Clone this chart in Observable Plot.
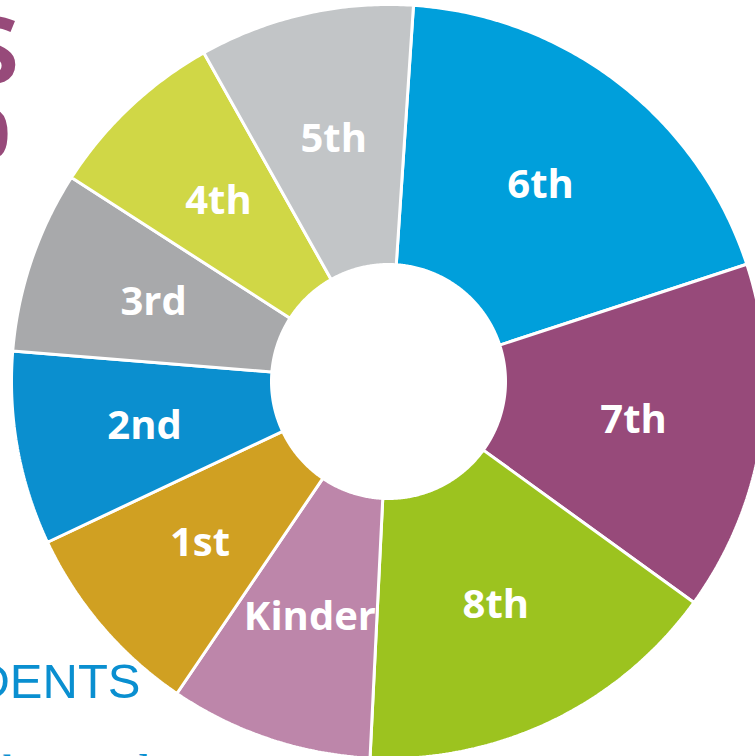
<!DOCTYPE html>
<html><head><meta charset="utf-8">
<script src="https://cdn.jsdelivr.net/npm/d3@7"></script>
<script src="https://cdn.jsdelivr.net/npm/@observablehq/plot@0.6"></script>
<style>
html,body{margin:0;padding:0;background:#fff;overflow:hidden;width:755px;height:756px;}
#wrap{position:relative;width:755px;height:756px;overflow:hidden;background:#fff;}
#wrap svg{position:absolute;left:0;top:0;}
.frag{position:absolute;white-space:nowrap;}
</style></head><body><div id="wrap"></div>
<script>
// Data (share of enrolment, %), clockwise from the top
const grades = ["6th","7th","8th","Kinder","1st","2nd","3rd","4th","5th"];
const shares = [18.9, 15.0, 15.8, 8.7, 8.5, 8.3, 7.8, 7.75, 9.2];
const colors = ["#009fdb","#974a7a","#9cc31f","#bd86aa","#d0a022","#0b8fcf","#a8a9ab","#d0d746","#c2c5c7"];

// Layout
const W = 755, H = 756, CX = 388, CY = 381, R = 377, R0 = 117, RL = 248, START_DEG = 3.8;

const data = grades.map((g, i) => ({grade: g, share: shares[i]}));
const a0 = START_DEG * Math.PI / 180;
const arcs = d3.pie().sort(null).value(d => d.share).startAngle(a0).endAngle(a0 + 2 * Math.PI)(data);

const inner = R0 / R;
const pts = [];
const labels = [];
for (const a of arcs) {
  const n = Math.max(8, Math.ceil((a.endAngle - a.startAngle) / (Math.PI / 360)));
  for (let k = 0; k <= n; k++) {
    const t = a.startAngle + (a.endAngle - a.startAngle) * k / n;
    pts.push({grade: a.data.grade, x: Math.sin(t), y: Math.cos(t)});
  }
  for (let k = n; k >= 0; k--) {
    const t = a.startAngle + (a.endAngle - a.startAngle) * k / n;
    pts.push({grade: a.data.grade, x: inner * Math.sin(t), y: inner * Math.cos(t)});
  }
  const m = (a.startAngle + a.endAngle) / 2;
  labels.push({grade: a.data.grade, x: (RL / R) * Math.sin(m), y: (RL / R) * Math.cos(m)});
}

const chart = Plot.plot({
  width: W, height: H, margin: 0,
  style: {background: "transparent", overflow: "visible"},
  x: {domain: [-CX / R, (W - CX) / R], range: [0, W], axis: null},
  y: {domain: [-(H - CY) / R, CY / R], range: [H, 0], axis: null},
  color: {domain: grades, range: colors},
  marks: [
    Plot.line(pts, {x: "x", y: "y", z: "grade", fill: "grade", stroke: "white", strokeWidth: 3, strokeLinejoin: "miter", curve: "linear-closed"}),
    Plot.text(labels, {x: "x", y: "y", text: "grade", fill: "white", fontSize: 40, fontWeight: 700, fontFamily: "Open Sans"})
  ]
});
const wrap = document.getElementById("wrap");
wrap.appendChild(chart);

// Cropped page text around the chart
function frag(text, css) {
  const d = document.createElement("div");
  d.className = "frag";
  d.textContent = text;
  Object.assign(d.style, css);
  wrap.appendChild(d);
}
frag("S", {right: (W - 19) + "px", top: "13px", lineHeight: "0.75", fontFamily: "Open Sans", fontWeight: 700, fontSize: "92px", color: "#974a7a", textAlign: "right"});
frag("0", {right: (W - 10) + "px", top: "106px", lineHeight: "0.8", fontFamily: "Open Sans", fontWeight: 700, fontSize: "66px", color: "#974a7a", textAlign: "right"});
frag("STUDENTS", {right: (W - 140.5) + "px", top: "656.5px", lineHeight: "1", fontFamily: "Liberation Sans", fontWeight: 400, fontSize: "49px", color: "#0a8fd0", textAlign: "right"});
frag("the Sand", {left: "-10px", top: "749px", lineHeight: "1", fontFamily: "Liberation Serif", fontWeight: 400, fontSize: "46px", color: "#0a8fd0"});
</script></body></html>
